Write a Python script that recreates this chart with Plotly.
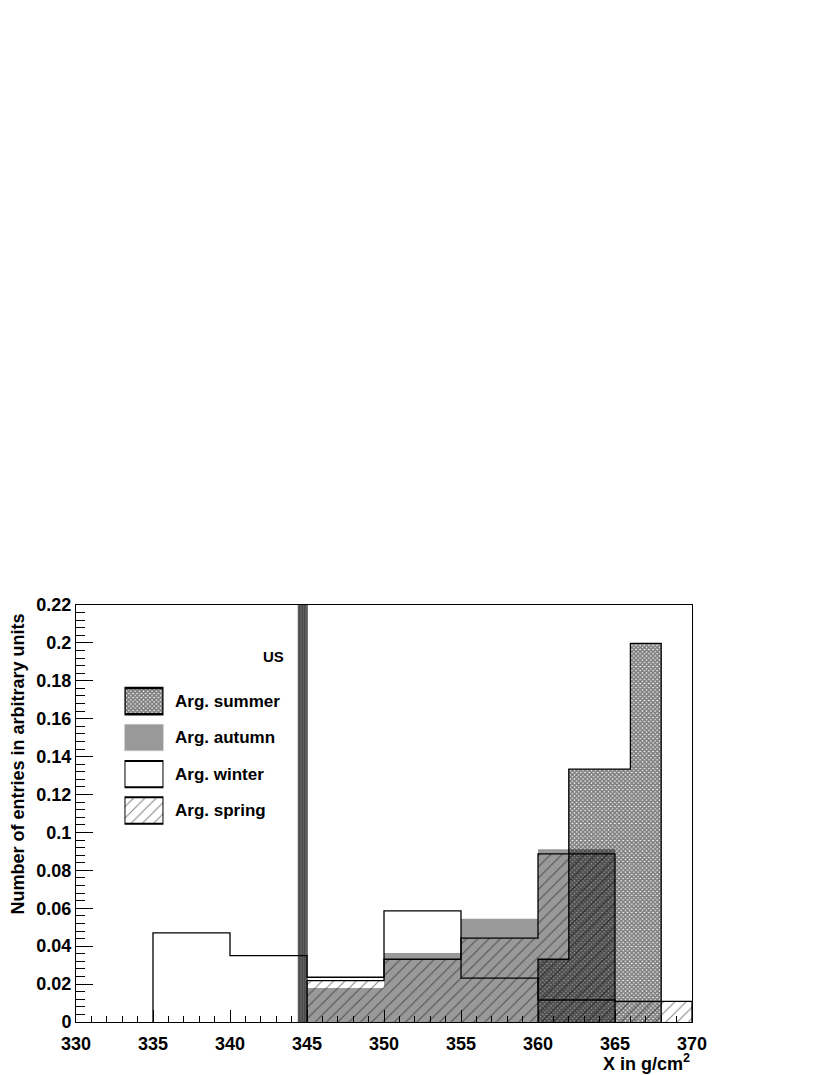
import plotly.graph_objects as go

# histogram bin edges and contents
winter_edges = [335, 340, 345, 350, 355, 360, 365]
winter_vals = [0.047, 0.035, 0.0236, 0.0586, 0.0231, 0.0116]

autumn_edges = [345, 350, 355, 360, 365]
autumn_vals = [0.018, 0.0364, 0.0545, 0.0911]

spring_edges = [345, 350, 355, 360, 365, 370]
spring_vals = [0.0218, 0.0331, 0.0442, 0.0887, 0.0109]

summer_edges = [360, 362, 366, 368]
summer_vals = [0.0331, 0.1334, 0.1998]

us_edges = [344.4, 345.05]
us_vals = [0.3]  # runs off the top of the frame

legend_names = ["Arg. summer", "Arg. autumn", "Arg. winter", "Arg. spring"]

x_ticks = [330, 335, 340, 345, 350, 355, 360, 365, 370]
y_ticks = [0, 0.02, 0.04, 0.06, 0.08, 0.1, 0.12, 0.14, 0.16, 0.18, 0.2, 0.22]
y_labels = ["0", "0.02", "0.04", "0.06", "0.08", "0.1", "0.12", "0.14",
            "0.16", "0.18", "0.2", "0.22"]

FONT = "Liberation Sans"
GREY = "rgb(153,153,153)"
CLEAR = "rgba(0,0,0,0)"

SUMMER_PAT = dict(shape="x", size=3, solidity=0.8, fgcolor="black", bgcolor=CLEAR)
SPRING_PAT = dict(shape="/", size=8, solidity=0.12, fgcolor="black", bgcolor=CLEAR)
US_PAT = dict(shape="|", size=2.5, solidity=0.7, fgcolor="black", bgcolor="rgb(130,130,130)")


def bold(size):
    return dict(family=FONT, size=size, color="black", weight="bold")


def centers(edges):
    return [(a + b) / 2 for a, b in zip(edges[:-1], edges[1:])]


def widths(edges):
    return [b - a for a, b in zip(edges[:-1], edges[1:])]


def step(edges, vals):
    xs = [edges[0]] + list(edges[:-1]) + [edges[-1]]
    ys = [0] + list(vals) + [0]
    return xs, ys


def fill_bar(edges, vals, color, pattern=None):
    marker = dict(color=color, line=dict(width=0))
    if pattern:
        marker["pattern"] = pattern
    return go.Bar(x=centers(edges), y=vals, width=widths(edges),
                  marker=marker, showlegend=False, hoverinfo="skip")


def outline(edges, vals):
    xs, ys = step(edges, vals)
    return go.Scatter(x=xs, y=ys, mode="lines", line_shape="hv",
                      line=dict(color="black", width=1.3),
                      showlegend=False, hoverinfo="skip")


fig = go.Figure()

# fills
fig.add_trace(fill_bar(autumn_edges, autumn_vals, GREY))
fig.add_trace(fill_bar(spring_edges, spring_vals, CLEAR, SPRING_PAT))
fig.add_trace(fill_bar(summer_edges, summer_vals, CLEAR, SUMMER_PAT))
fig.add_trace(fill_bar(us_edges, us_vals, GREY, US_PAT))

# outlines
fig.add_trace(outline(winter_edges, winter_vals))
fig.add_trace(outline(spring_edges, spring_vals))
fig.add_trace(outline(summer_edges, summer_vals))

# hand-made legend boxes on a helper axis pair
leg_styles = [
    dict(color=CLEAR, pattern=SUMMER_PAT, line=dict(color="black", width=2.5)),
    dict(color=GREY, line=dict(color="rgb(190,190,190)", width=1)),
    dict(color="white", line=dict(color="black", width=2)),
    dict(color=CLEAR, pattern=SPRING_PAT, line=dict(color="black", width=2)),
]
for name, st in zip(legend_names, leg_styles):
    fig.add_trace(go.Bar(x=[1], y=[name], base=0, orientation="h", width=0.72,
                         marker=st, xaxis="x2", yaxis="y2",
                         showlegend=False, hoverinfo="skip"))
    fig.add_annotation(text=name, xref="paper", yref="y2", x=0.1575, y=name,
                       xanchor="left", yanchor="middle", showarrow=False,
                       font=bold(17))

fig.add_annotation(text="US", xref="paper", yref="paper", x=0.3206, y=0.8753,
                   xanchor="center", yanchor="middle", showarrow=False,
                   font=bold(15))

fig.add_annotation(text="Number of entries in arbitrary units", textangle=-90,
                   xref="paper", yref="paper", x=0, y=1, xshift=-59, yshift=-7,
                   xanchor="center", yanchor="top", showarrow=False,
                   font=bold(18))

fig.add_annotation(text="X in g/cm<sup>2</sup>", xref="paper", yref="paper",
                   x=1, y=0, yshift=-27, xanchor="right", yanchor="top",
                   showarrow=False, font=bold(18))

# the page adds an 8px body margin, so margins are trimmed by 8 on left/top
fig.update_layout(
    width=830, height=1075,
    margin=dict(l=68, r=146, t=597, b=61, autoexpand=False),
    paper_bgcolor="white", plot_bgcolor="white",
    barmode="overlay",
    showlegend=False,
    font=dict(family=FONT, color="black"),
    xaxis=dict(range=[330, 370], showgrid=False, zeroline=False,
               showline=True, linecolor="black", linewidth=1, mirror=True,
               ticks="inside", ticklen=12, tickcolor="black",
               tickvals=x_ticks, ticktext=[str(v) for v in x_ticks],
               tickfont=bold(18), ticklabelstandoff=5, automargin=False,
               minor=dict(dtick=1, ticks="inside", ticklen=6, tickcolor="black")),
    yaxis=dict(range=[0, 0.22], showgrid=False, zeroline=False,
               showline=True, linecolor="black", linewidth=1, mirror=True,
               ticks="inside", ticklen=17, tickcolor="black",
               tickvals=y_ticks, ticktext=y_labels,
               tickfont=bold(18), automargin=False,
               minor=dict(dtick=0.004, ticks="inside", ticklen=9, tickcolor="black")),
    xaxis2=dict(domain=[0.0787, 0.142], range=[0, 1], anchor="y2", visible=False,
                fixedrange=True),
    yaxis2=dict(domain=[0.4634, 0.8135], anchor="x2", visible=False,
                categoryorder="array", categoryarray=legend_names,
                autorange="reversed", fixedrange=True),
)

fig.write_html("out.html")
